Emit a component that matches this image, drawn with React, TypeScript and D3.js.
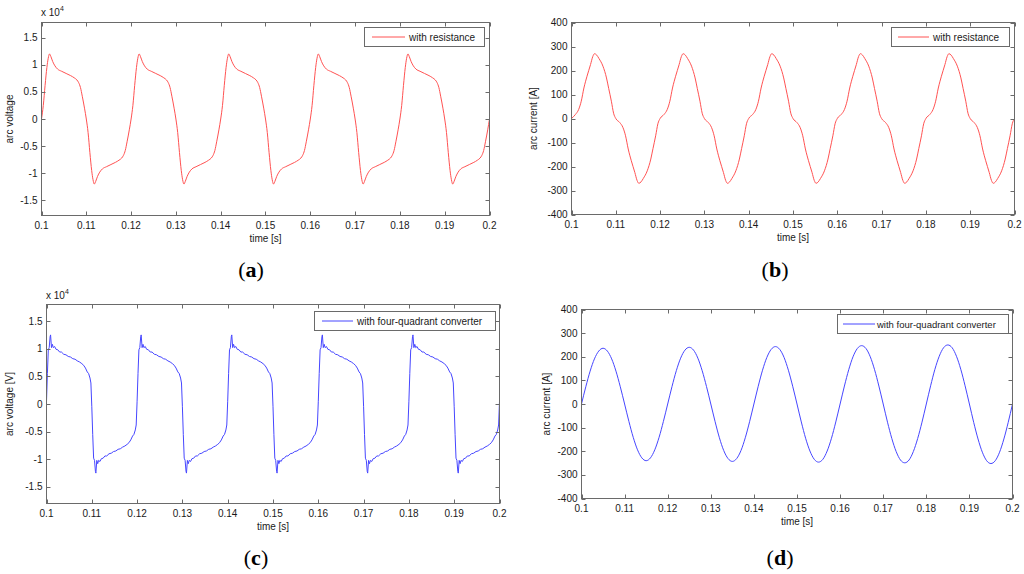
import React from "react";
import * as d3 from "d3";

// ---------- tick data ----------
const xTicks = [0.1, 0.11, 0.12, 0.13, 0.14, 0.15, 0.16, 0.17, 0.18, 0.19, 0.2];
const xTickLabels = ["0.1", "0.11", "0.12", "0.13", "0.14", "0.15", "0.16", "0.17", "0.18", "0.19", "0.2"];
const voltTicks = [-1.5, -1, -0.5, 0, 0.5, 1, 1.5];
const voltTickLabels = ["-1.5", "-1", "-0.5", "0", "0.5", "1", "1.5"];
const currTicks = [-400, -300, -200, -100, 0, 100, 200, 300, 400];
const currTickLabels = ["-400", "-300", "-200", "-100", "0", "100", "200", "300", "400"];

// ---------- (a) arc voltage with resistance (x 10^4) ----------
const timeVRes = [
  0.1, 0.1004, 0.1008, 0.1012, 0.1015, 0.1018, 0.1021, 0.1025, 0.103, 0.1036, 0.1045, 0.1055, 0.1065, 0.1073, 0.1079, 0.1083, 0.1087, 0.1091, 0.1096,
  0.11, 0.1104, 0.1108, 0.1112, 0.1115, 0.1118, 0.1121, 0.1125, 0.113, 0.1136, 0.1145, 0.1155, 0.1165, 0.1173, 0.1179, 0.1183, 0.1187, 0.1191, 0.1196,
  0.12, 0.1204, 0.1208, 0.1212, 0.1215, 0.1218, 0.1221, 0.1225, 0.123, 0.1236, 0.1245, 0.1255, 0.1265, 0.1273, 0.1279, 0.1283, 0.1287, 0.1291, 0.1296,
  0.13, 0.1304, 0.1308, 0.1312, 0.1315, 0.1318, 0.1321, 0.1325, 0.133, 0.1336, 0.1345, 0.1355, 0.1365, 0.1373, 0.1379, 0.1383, 0.1387, 0.1391, 0.1396,
  0.14, 0.1404, 0.1408, 0.1412, 0.1415, 0.1418, 0.1421, 0.1425, 0.143, 0.1436, 0.1445, 0.1455, 0.1465, 0.1473, 0.1479, 0.1483, 0.1487, 0.1491, 0.1496,
  0.15, 0.1504, 0.1508, 0.1512, 0.1515, 0.1518, 0.1521, 0.1525, 0.153, 0.1536, 0.1545, 0.1555, 0.1565, 0.1573, 0.1579, 0.1583, 0.1587, 0.1591, 0.1596,
  0.16, 0.1604, 0.1608, 0.1612, 0.1615, 0.1618, 0.1621, 0.1625, 0.163, 0.1636, 0.1645, 0.1655, 0.1665, 0.1673, 0.1679, 0.1683, 0.1687, 0.1691, 0.1696,
  0.17, 0.1704, 0.1708, 0.1712, 0.1715, 0.1718, 0.1721, 0.1725, 0.173, 0.1736, 0.1745, 0.1755, 0.1765, 0.1773, 0.1779, 0.1783, 0.1787, 0.1791, 0.1796,
  0.18, 0.1804, 0.1808, 0.1812, 0.1815, 0.1818, 0.1821, 0.1825, 0.183, 0.1836, 0.1845, 0.1855, 0.1865, 0.1873, 0.1879, 0.1883, 0.1887, 0.1891, 0.1896,
  0.19, 0.1904, 0.1908, 0.1912, 0.1915, 0.1918, 0.1921, 0.1925, 0.193, 0.1936, 0.1945, 0.1955, 0.1965, 0.1973, 0.1979, 0.1983, 0.1987, 0.1991, 0.1996,
  0.2,
];
const voltageRes = [
  0, 0.25, 0.62, 0.95, 1.12, 1.2, 1.15, 1.06, 0.98, 0.92, 0.88, 0.84, 0.8, 0.76, 0.72, 0.67, 0.58, 0.42, 0.2,
  0, -0.25, -0.62, -0.95, -1.12, -1.2, -1.15, -1.06, -0.98, -0.92, -0.88, -0.84, -0.8, -0.76, -0.72, -0.67, -0.58, -0.42, -0.2,
  0, 0.25, 0.62, 0.95, 1.12, 1.2, 1.15, 1.06, 0.98, 0.92, 0.88, 0.84, 0.8, 0.76, 0.72, 0.67, 0.58, 0.42, 0.2,
  0, -0.25, -0.62, -0.95, -1.12, -1.2, -1.15, -1.06, -0.98, -0.92, -0.88, -0.84, -0.8, -0.76, -0.72, -0.67, -0.58, -0.42, -0.2,
  0, 0.25, 0.62, 0.95, 1.12, 1.2, 1.15, 1.06, 0.98, 0.92, 0.88, 0.84, 0.8, 0.76, 0.72, 0.67, 0.58, 0.42, 0.2,
  0, -0.25, -0.62, -0.95, -1.12, -1.2, -1.15, -1.06, -0.98, -0.92, -0.88, -0.84, -0.8, -0.76, -0.72, -0.67, -0.58, -0.42, -0.2,
  0, 0.25, 0.62, 0.95, 1.12, 1.2, 1.15, 1.06, 0.98, 0.92, 0.88, 0.84, 0.8, 0.76, 0.72, 0.67, 0.58, 0.42, 0.2,
  0, -0.25, -0.62, -0.95, -1.12, -1.2, -1.15, -1.06, -0.98, -0.92, -0.88, -0.84, -0.8, -0.76, -0.72, -0.67, -0.58, -0.42, -0.2,
  0, 0.25, 0.62, 0.95, 1.12, 1.2, 1.15, 1.06, 0.98, 0.92, 0.88, 0.84, 0.8, 0.76, 0.72, 0.67, 0.58, 0.42, 0.2,
  0, -0.25, -0.62, -0.95, -1.12, -1.2, -1.15, -1.06, -0.98, -0.92, -0.88, -0.84, -0.8, -0.76, -0.72, -0.67, -0.58, -0.42, -0.2,
  0,
];

// ---------- (b) arc current with resistance [A] ----------
const timeIRes = [
  0.1, 0.1009, 0.1016, 0.1022, 0.1028, 0.1035, 0.1043, 0.1048, 0.1052, 0.1057, 0.1062, 0.1071, 0.1079, 0.1084, 0.109, 0.1095,
  0.11, 0.1109, 0.1116, 0.1122, 0.1128, 0.1135, 0.1143, 0.1148, 0.1152, 0.1157, 0.1162, 0.1171, 0.1179, 0.1184, 0.119, 0.1195,
  0.12, 0.1209, 0.1216, 0.1222, 0.1228, 0.1235, 0.1243, 0.1248, 0.1252, 0.1257, 0.1262, 0.1271, 0.1279, 0.1284, 0.129, 0.1295,
  0.13, 0.1309, 0.1316, 0.1322, 0.1328, 0.1335, 0.1343, 0.1348, 0.1352, 0.1357, 0.1362, 0.1371, 0.1379, 0.1384, 0.139, 0.1395,
  0.14, 0.1409, 0.1416, 0.1422, 0.1428, 0.1435, 0.1443, 0.1448, 0.1452, 0.1457, 0.1462, 0.1471, 0.1479, 0.1484, 0.149, 0.1495,
  0.15, 0.1509, 0.1516, 0.1522, 0.1528, 0.1535, 0.1543, 0.1548, 0.1552, 0.1557, 0.1562, 0.1571, 0.1579, 0.1584, 0.159, 0.1595,
  0.16, 0.1609, 0.1616, 0.1622, 0.1628, 0.1635, 0.1643, 0.1648, 0.1652, 0.1657, 0.1662, 0.1671, 0.1679, 0.1684, 0.169, 0.1695,
  0.17, 0.1709, 0.1716, 0.1722, 0.1728, 0.1735, 0.1743, 0.1748, 0.1752, 0.1757, 0.1762, 0.1771, 0.1779, 0.1784, 0.179, 0.1795,
  0.18, 0.1809, 0.1816, 0.1822, 0.1828, 0.1835, 0.1843, 0.1848, 0.1852, 0.1857, 0.1862, 0.1871, 0.1879, 0.1884, 0.189, 0.1895,
  0.19, 0.1909, 0.1916, 0.1922, 0.1928, 0.1935, 0.1943, 0.1948, 0.1952, 0.1957, 0.1962, 0.1971, 0.1979, 0.1984, 0.199, 0.1995,
  0.2,
];
const currentRes = [
  0, 17, 37, 72, 127, 176, 225, 258, 270, 264, 250, 218, 169, 125, 72, 22,
  0, -17, -37, -72, -127, -176, -225, -258, -270, -264, -250, -218, -169, -125, -72, -22,
  0, 17, 37, 72, 127, 176, 225, 258, 270, 264, 250, 218, 169, 125, 72, 22,
  0, -17, -37, -72, -127, -176, -225, -258, -270, -264, -250, -218, -169, -125, -72, -22,
  0, 17, 37, 72, 127, 176, 225, 258, 270, 264, 250, 218, 169, 125, 72, 22,
  0, -17, -37, -72, -127, -176, -225, -258, -270, -264, -250, -218, -169, -125, -72, -22,
  0, 17, 37, 72, 127, 176, 225, 258, 270, 264, 250, 218, 169, 125, 72, 22,
  0, -17, -37, -72, -127, -176, -225, -258, -270, -264, -250, -218, -169, -125, -72, -22,
  0, 17, 37, 72, 127, 176, 225, 258, 270, 264, 250, 218, 169, 125, 72, 22,
  0, -17, -37, -72, -127, -176, -225, -258, -270, -264, -250, -218, -169, -125, -72, -22,
  0,
];

// ---------- (c) arc voltage with four-quadrant converter (x 10^4 V) ----------
const timeV4q = [
  0.1, 0.1002, 0.1004, 0.1006, 0.1008, 0.1009, 0.1011, 0.1013, 0.1015, 0.1018, 0.1021, 0.1025, 0.1029, 0.1033, 0.1038, 0.1043, 0.1048, 0.1053, 0.1058, 0.1063, 0.1068, 0.1073, 0.1078, 0.1082, 0.1086, 0.109, 0.1093, 0.1096, 0.1098,
  0.11, 0.1102, 0.1104, 0.1106, 0.1108, 0.1109, 0.1111, 0.1113, 0.1115, 0.1118, 0.1121, 0.1125, 0.1129, 0.1133, 0.1138, 0.1143, 0.1148, 0.1153, 0.1158, 0.1163, 0.1168, 0.1173, 0.1178, 0.1182, 0.1186, 0.119, 0.1193, 0.1196, 0.1198,
  0.12, 0.1202, 0.1204, 0.1206, 0.1208, 0.1209, 0.1211, 0.1213, 0.1215, 0.1218, 0.1221, 0.1225, 0.1229, 0.1233, 0.1238, 0.1243, 0.1248, 0.1253, 0.1258, 0.1263, 0.1268, 0.1273, 0.1278, 0.1282, 0.1286, 0.129, 0.1293, 0.1296, 0.1298,
  0.13, 0.1302, 0.1304, 0.1306, 0.1308, 0.1309, 0.1311, 0.1313, 0.1315, 0.1318, 0.1321, 0.1325, 0.1329, 0.1333, 0.1338, 0.1343, 0.1348, 0.1353, 0.1358, 0.1363, 0.1368, 0.1373, 0.1378, 0.1382, 0.1386, 0.139, 0.1393, 0.1396, 0.1398,
  0.14, 0.1402, 0.1404, 0.1406, 0.1408, 0.1409, 0.1411, 0.1413, 0.1415, 0.1418, 0.1421, 0.1425, 0.1429, 0.1433, 0.1438, 0.1443, 0.1448, 0.1453, 0.1458, 0.1463, 0.1468, 0.1473, 0.1478, 0.1482, 0.1486, 0.149, 0.1493, 0.1496, 0.1498,
  0.15, 0.1502, 0.1504, 0.1506, 0.1508, 0.1509, 0.1511, 0.1513, 0.1515, 0.1518, 0.1521, 0.1525, 0.1529, 0.1533, 0.1538, 0.1543, 0.1548, 0.1553, 0.1558, 0.1563, 0.1568, 0.1573, 0.1578, 0.1582, 0.1586, 0.159, 0.1593, 0.1596, 0.1598,
  0.16, 0.1602, 0.1604, 0.1606, 0.1608, 0.1609, 0.1611, 0.1613, 0.1615, 0.1618, 0.1621, 0.1625, 0.1629, 0.1633, 0.1638, 0.1643, 0.1648, 0.1653, 0.1658, 0.1663, 0.1668, 0.1673, 0.1678, 0.1682, 0.1686, 0.169, 0.1693, 0.1696, 0.1698,
  0.17, 0.1702, 0.1704, 0.1706, 0.1708, 0.1709, 0.1711, 0.1713, 0.1715, 0.1718, 0.1721, 0.1725, 0.1729, 0.1733, 0.1738, 0.1743, 0.1748, 0.1753, 0.1758, 0.1763, 0.1768, 0.1773, 0.1778, 0.1782, 0.1786, 0.179, 0.1793, 0.1796, 0.1798,
  0.18, 0.1802, 0.1804, 0.1806, 0.1808, 0.1809, 0.1811, 0.1813, 0.1815, 0.1818, 0.1821, 0.1825, 0.1829, 0.1833, 0.1838, 0.1843, 0.1848, 0.1853, 0.1858, 0.1863, 0.1868, 0.1873, 0.1878, 0.1882, 0.1886, 0.189, 0.1893, 0.1896, 0.1898,
  0.19, 0.1902, 0.1904, 0.1906, 0.1908, 0.1909, 0.1911, 0.1913, 0.1915, 0.1918, 0.1921, 0.1925, 0.1929, 0.1933, 0.1938, 0.1943, 0.1948, 0.1953, 0.1958, 0.1963, 0.1968, 0.1973, 0.1978, 0.1982, 0.1986, 0.199, 0.1993, 0.1996, 0.1998,
  0.2,
];
const voltage4q = [
  0.05, 0.55, 0.98, 1.02, 1.22, 1.25, 1.02, 1.08, 1.02, 1.04, 0.99, 0.98, 0.94, 0.94, 0.9, 0.89, 0.86, 0.85, 0.82, 0.81, 0.78, 0.76, 0.73, 0.7, 0.65, 0.58, 0.55, 0.47, 0.38,
  -0.05, -0.55, -0.98, -1.02, -1.22, -1.25, -1.02, -1.08, -1.02, -1.04, -0.99, -0.98, -0.94, -0.94, -0.9, -0.89, -0.86, -0.85, -0.82, -0.81, -0.78, -0.76, -0.73, -0.7, -0.65, -0.58, -0.55, -0.47, -0.38,
  0.05, 0.55, 0.98, 1.02, 1.22, 1.25, 1.02, 1.08, 1.02, 1.04, 0.99, 0.98, 0.94, 0.94, 0.9, 0.89, 0.86, 0.85, 0.82, 0.81, 0.78, 0.76, 0.73, 0.7, 0.65, 0.58, 0.55, 0.47, 0.38,
  -0.05, -0.55, -0.98, -1.02, -1.22, -1.25, -1.02, -1.08, -1.02, -1.04, -0.99, -0.98, -0.94, -0.94, -0.9, -0.89, -0.86, -0.85, -0.82, -0.81, -0.78, -0.76, -0.73, -0.7, -0.65, -0.58, -0.55, -0.47, -0.38,
  0.05, 0.55, 0.98, 1.02, 1.22, 1.25, 1.02, 1.08, 1.02, 1.04, 0.99, 0.98, 0.94, 0.94, 0.9, 0.89, 0.86, 0.85, 0.82, 0.81, 0.78, 0.76, 0.73, 0.7, 0.65, 0.58, 0.55, 0.47, 0.38,
  -0.05, -0.55, -0.98, -1.02, -1.22, -1.25, -1.02, -1.08, -1.02, -1.04, -0.99, -0.98, -0.94, -0.94, -0.9, -0.89, -0.86, -0.85, -0.82, -0.81, -0.78, -0.76, -0.73, -0.7, -0.65, -0.58, -0.55, -0.47, -0.38,
  0.05, 0.55, 0.98, 1.02, 1.22, 1.25, 1.02, 1.08, 1.02, 1.04, 0.99, 0.98, 0.94, 0.94, 0.9, 0.89, 0.86, 0.85, 0.82, 0.81, 0.78, 0.76, 0.73, 0.7, 0.65, 0.58, 0.55, 0.47, 0.38,
  -0.05, -0.55, -0.98, -1.02, -1.22, -1.25, -1.02, -1.08, -1.02, -1.04, -0.99, -0.98, -0.94, -0.94, -0.9, -0.89, -0.86, -0.85, -0.82, -0.81, -0.78, -0.76, -0.73, -0.7, -0.65, -0.58, -0.55, -0.47, -0.38,
  0.05, 0.55, 0.98, 1.02, 1.22, 1.25, 1.02, 1.08, 1.02, 1.04, 0.99, 0.98, 0.94, 0.94, 0.9, 0.89, 0.86, 0.85, 0.82, 0.81, 0.78, 0.76, 0.73, 0.7, 0.65, 0.58, 0.55, 0.47, 0.38,
  -0.05, -0.55, -0.98, -1.02, -1.22, -1.25, -1.02, -1.08, -1.02, -1.04, -0.99, -0.98, -0.94, -0.94, -0.9, -0.89, -0.86, -0.85, -0.82, -0.81, -0.78, -0.76, -0.73, -0.7, -0.65, -0.58, -0.55, -0.47, -0.38,
  0.05,
];

// ---------- (d) arc current with four-quadrant converter [A] ----------
const timeI4q = [
  0.1, 0.101, 0.102, 0.103, 0.104, 0.105, 0.106, 0.107, 0.108, 0.109,
  0.11, 0.111, 0.112, 0.113, 0.114, 0.115, 0.116, 0.117, 0.118, 0.119,
  0.12, 0.121, 0.122, 0.123, 0.124, 0.125, 0.126, 0.127, 0.128, 0.129,
  0.13, 0.131, 0.132, 0.133, 0.134, 0.135, 0.136, 0.137, 0.138, 0.139,
  0.14, 0.141, 0.142, 0.143, 0.144, 0.145, 0.146, 0.147, 0.148, 0.149,
  0.15, 0.151, 0.152, 0.153, 0.154, 0.155, 0.156, 0.157, 0.158, 0.159,
  0.16, 0.161, 0.162, 0.163, 0.164, 0.165, 0.166, 0.167, 0.168, 0.169,
  0.17, 0.171, 0.172, 0.173, 0.174, 0.175, 0.176, 0.177, 0.178, 0.179,
  0.18, 0.181, 0.182, 0.183, 0.184, 0.185, 0.186, 0.187, 0.188, 0.189,
  0.19, 0.191, 0.192, 0.193, 0.194, 0.195, 0.196, 0.197, 0.198, 0.199,
  0.2,
];
const current4q = [
  0, 73, 139, 191, 224, 236, 224, 191, 139, 73,
  0, -74, -141, -194, -228, -240, -228, -194, -141, -74,
  0, 74, 141, 194, 228, 240, 228, 194, 141, 74,
  0, -75, -143, -197, -231, -243, -231, -197, -143, -75,
  0, 75, 143, 197, 231, 243, 231, 197, 143, 75,
  0, -76, -145, -199, -234, -246, -234, -199, -145, -76,
  0, 76, 145, 200, 235, 247, 235, 200, 145, 76,
  0, -77, -146, -201, -237, -249, -237, -201, -146, -77,
  0, 77, 147, 202, 238, 250, 238, 202, 147, 77,
  0, -78, -148, -204, -240, -252, -240, -204, -148, -78,
  0,
];

const FONT = "'Liberation Sans', Arial, Helvetica, sans-serif";
const SERIF = "'Liberation Serif', 'Times New Roman', serif";
const AXIS = "#6a6a6a";
const TXT = "#1a1a1a";
const RED = "#ff5252";
const BLUE = "#4646ff";

type PanelProps = {
  id: string;
  l: number; r: number; t: number; b: number;
  yDomain: [number, number];
  yTicks: number[];
  yTickLabels: string[];
  times: number[];
  values: number[];
  color: string;
  curve: d3.CurveFactory;
  yLabel: string;
  yLabelX: number;
  legendText: string;
  legend: { x: number; y: number; w: number; h: number; s0: number; s1: number; tx: number; fs: number };
  exponent?: { x: number; y: number };
  letter: string;
  letterX: number;
  letterY: number;
};

function Panel(p: PanelProps) {
  const x = d3.scaleLinear().domain([0.1, 0.2]).range([p.l, p.r]);
  const y = d3.scaleLinear().domain(p.yDomain).range([p.b, p.t]);
  const line = d3
    .line<number>()
    .x((_, i) => x(p.times[i]))
    .y((d) => y(d))
    .curve(p.curve);
  const clipId = `clip-${p.id}`;
  const tl = 4;
  const cy = (p.t + p.b) / 2;
  const cx = (p.l + p.r) / 2;
  return (
    <g>
      <defs>
        <clipPath id={clipId}>
          <rect x={p.l} y={p.t} width={p.r - p.l} height={p.b - p.t} />
        </clipPath>
      </defs>
      <rect x={p.l} y={p.t} width={p.r - p.l} height={p.b - p.t} fill="#fff" stroke="none" />
      <path d={line(p.values) || ""} fill="none" stroke={p.color} strokeWidth={1} clipPath={`url(#${clipId})`} />
      {xTicks.map((v, i) => {
        const xx = Math.round(x(v)) + 0.5;
        return (
          <g key={"xt" + i}>
            <line x1={xx} x2={xx} y1={p.b} y2={p.b - tl} stroke={AXIS} />
            <line x1={xx} x2={xx} y1={p.t} y2={p.t + tl} stroke={AXIS} />
            <text x={x(v)} y={p.b + 13} fontSize={10} fontFamily={FONT} fill={TXT} textAnchor="middle">
              {xTickLabels[i]}
            </text>
          </g>
        );
      })}
      {p.yTicks.map((v, i) => {
        const yy = Math.round(y(v)) + 0.5;
        return (
          <g key={"yt" + i}>
            <line x1={p.l} x2={p.l + tl} y1={yy} y2={yy} stroke={AXIS} />
            <line x1={p.r} x2={p.r - tl} y1={yy} y2={yy} stroke={AXIS} />
            <text x={p.l - 4} y={y(v) + 3.5} fontSize={10} fontFamily={FONT} fill={TXT} textAnchor="end">
              {p.yTickLabels[i]}
            </text>
          </g>
        );
      })}
      <rect x={p.l} y={p.t} width={p.r - p.l} height={p.b - p.t} fill="none" stroke={AXIS} strokeWidth={1} />
      <rect x={p.legend.x} y={p.legend.y} width={p.legend.w} height={p.legend.h} fill="#fff" stroke={AXIS} strokeWidth={1} />
      <line
        x1={p.legend.s0}
        x2={p.legend.s1}
        y1={p.legend.y + p.legend.h / 2}
        y2={p.legend.y + p.legend.h / 2}
        stroke={p.color}
        strokeWidth={1}
      />
      <text x={p.legend.tx} y={p.legend.y + p.legend.h / 2 + 3.5} fontSize={p.legend.fs} fontFamily={FONT} fill={TXT}>
        {p.legendText}
      </text>
      <text x={cx} y={p.b + 26} fontSize={10} fontFamily={FONT} fill={TXT} textAnchor="middle">
        time [s]
      </text>
      <text
        transform={`translate(${p.yLabelX},${cy}) rotate(-90)`}
        fontSize={10}
        fontFamily={FONT}
        fill={TXT}
        textAnchor="middle"
      >
        {p.yLabel}
      </text>
      {p.exponent && (
        <text x={p.exponent.x} y={p.exponent.y} fontSize={10} fontFamily={FONT} fill={TXT}>
          x 10
          <tspan fontSize={7} dy={-5}>
            4
          </tspan>
        </text>
      )}
      <text x={p.letterX} y={p.letterY} fontSize={22} fontFamily={SERIF} fill="#000" textAnchor="middle">
        (<tspan fontWeight="bold">{p.letter}</tspan>)
      </text>
    </g>
  );
}

export default function App() {
  return (
    <svg
      width={1024}
      height={574}
      viewBox="0 0 1024 574"
      style={{ position: "absolute", left: 0, top: 0, background: "#fff" }}
    >
      <rect x={0} y={0} width={1024} height={574} fill="#fff" />
      <Panel
        id="a"
        l={41.5} r={489.5} t={22.5} b={215.5}
        yDomain={[-1.78, 1.78]}
        yTicks={voltTicks}
        yTickLabels={voltTickLabels}
        times={timeVRes}
        values={voltageRes}
        color={RED}
        curve={d3.curveMonotoneX}
        yLabel="arc voltage"
        yLabelX={13}
        legendText="with resistance"
        legend={{ x: 364.5, y: 27.5, w: 120, h: 19, s0: 372, s1: 405, tx: 409, fs: 10 }}
        exponent={{ x: 41, y: 16 }}
        letter="a"
        letterX={251}
        letterY={277}
      />
      <Panel
        id="b"
        l={571.5} r={1014.5} t={22.5} b={214.5}
        yDomain={[-400, 400]}
        yTicks={currTicks}
        yTickLabels={currTickLabels}
        times={timeIRes}
        values={currentRes}
        color={RED}
        curve={d3.curveMonotoneX}
        yLabel="arc current [A]"
        yLabelX={537}
        legendText="with resistance"
        legend={{ x: 891.5, y: 27.5, w: 118, h: 19, s0: 898, s1: 929, tx: 933, fs: 10 }}
        letter="b"
        letterX={775}
        letterY={277}
      />
      <Panel
        id="c"
        l={46.5} r={499.5} t={304.5} b={503.5}
        yDomain={[-1.8, 1.8]}
        yTicks={voltTicks}
        yTickLabels={voltTickLabels}
        times={timeV4q}
        values={voltage4q}
        color={BLUE}
        curve={d3.curveLinear}
        yLabel="arc voltage [V]"
        yLabelX={13}
        legendText="with four-quadrant converter"
        legend={{ x: 314.5, y: 311.5, w: 181, h: 19, s0: 322, s1: 353, tx: 357, fs: 10 }}
        exponent={{ x: 46, y: 299 }}
        letter="c"
        letterX={256}
        letterY={565}
      />
      <Panel
        id="d"
        l={581.5} r={1012.5} t={309.5} b={498.5}
        yDomain={[-400, 400]}
        yTicks={currTicks}
        yTickLabels={currTickLabels}
        times={timeI4q}
        values={current4q}
        color={BLUE}
        curve={d3.curveMonotoneX}
        yLabel="arc current [A]"
        yLabelX={550}
        legendText="with four-quadrant converter"
        legend={{ x: 837.5, y: 314.5, w: 171, h: 19, s0: 843, s1: 875, tx: 877, fs: 9.5 }}
        letter="d"
        letterX={780}
        letterY={565}
      />
    </svg>
  );
}
